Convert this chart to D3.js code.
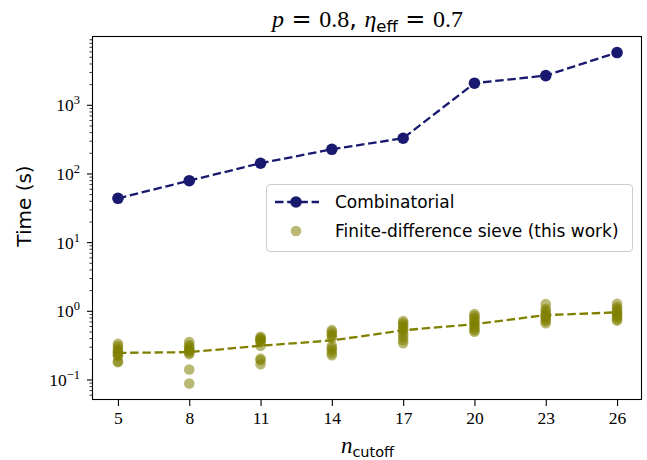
<!DOCTYPE html>
<html>
<head>
<meta charset="utf-8">
<script src="https://cdn.jsdelivr.net/npm/d3@7"></script>
<style>
  body { margin: 0; background: #fff; }
  svg { display: block; }
  .serif { font-family: "Liberation Serif", "Times New Roman", serif; }
  .sans { font-family: "DejaVu Sans", sans-serif; }
  .rel { font-family: "DejaVu Serif", serif; }
</style>
</head>
<body>
<svg id="chart" width="647" height="460"></svg>
<script>
// Photon-number cutoffs on the x axis
const cutoffs = [5, 8, 11, 14, 17, 20, 23, 26];

// Runtime of the combinatorial method (s)
const combinatorialTimes = [43.5, 78.5, 141, 225, 326, 2065, 2665, 5770];

// Individual runs of the finite-difference sieve (s), one list per cutoff
const sieveRuns = [
  [0.332, 0.306, 0.281, 0.267, 0.250, 0.242, 0.226, 0.219, 0.182, 0.179],
  [0.350, 0.316, 0.296, 0.277, 0.267, 0.259, 0.246, 0.234, 0.140, 0.0875],
  [0.420, 0.400, 0.387, 0.374, 0.362, 0.350, 0.311, 0.201, 0.191, 0.167],
  [0.523, 0.490, 0.457, 0.428, 0.400, 0.306, 0.286, 0.267, 0.242, 0.226],
  [0.708, 0.661, 0.619, 0.579, 0.541, 0.506, 0.457, 0.414, 0.374, 0.338],
  [0.895, 0.838, 0.783, 0.732, 0.684, 0.640, 0.598, 0.559, 0.523, 0.497],
  [1.250, 1.060, 0.990, 0.925, 0.865, 0.837, 0.809, 0.756, 0.708, 0.661],
  [1.270, 1.130, 1.060, 0.990, 0.940, 0.895, 0.851, 0.809, 0.756, 0.720]
];

// Typical (median) sieve runtime per cutoff (s)
const sieveTypical = [0.244, 0.25, 0.31, 0.37, 0.52, 0.64, 0.865, 0.95];

// Decade exponents labelled on the y axis
const yTickExponents = [-1, 0, 1, 2, 3];

const seriesNames = ["Combinatorial", "Finite-difference sieve (this work)"];

const navy = "#191970";
const olive = "#808000";
const lineWidth = 2.3;
const dash = "8.5,3.7";

const svg = d3.select("#chart");
const plot = { left: 93, right: 642, top: 36, bottom: 400 };

// x domain with 5% padding like the usual autoscale
const xExt = d3.extent(cutoffs);
const xPad = (xExt[1] - xExt[0]) * 0.05;
const x = d3.scaleLinear()
  .domain([xExt[0] - xPad, xExt[1] + xPad])
  .range([plot.left, plot.right]);

// y domain padded by 5% in log space
const allY = combinatorialTimes.concat(sieveRuns.flat(), sieveTypical);
const lo = Math.log10(d3.min(allY)), hi = Math.log10(d3.max(allY));
const yPad = (hi - lo) * 0.05;
const y = d3.scaleLog()
  .domain([Math.pow(10, lo - yPad), Math.pow(10, hi + yPad)])
  .range([plot.bottom, plot.top]);

// Minor ticks: 2..9 × 10^d inside the domain
const [yMin, yMax] = y.domain();
const minorTicks = [];
for (let d = -3; d <= 5; d++) {
  for (let k = 2; k <= 9; k++) {
    const v = k * Math.pow(10, d);
    if (v >= yMin && v <= yMax) minorTicks.push(v);
  }
}
const majorTicks = yTickExponents.map(e => Math.pow(10, e));

// ---- Axes ----
const xAxis = svg.append("g")
  .attr("transform", `translate(0,${plot.bottom})`)
  .call(d3.axisBottom(x).tickValues(cutoffs).tickSize(6).tickPadding(6).tickFormat(d3.format("d")));
xAxis.select(".domain").remove();
xAxis.selectAll(".tick line").attr("stroke", "#000").attr("stroke-width", 1.1);
xAxis.selectAll(".tick text")
  .attr("class", "serif")
  .attr("font-size", 17.5)
  .attr("fill", "#000");

const yMinor = svg.append("g")
  .attr("transform", `translate(${plot.left},0)`)
  .call(d3.axisLeft(y).tickValues(minorTicks).tickSize(3.5).tickFormat(""));
yMinor.select(".domain").remove();
yMinor.selectAll(".tick line").attr("stroke", "#000").attr("stroke-width", 0.8);

const yMajor = svg.append("g")
  .attr("transform", `translate(${plot.left},0)`)
  .call(d3.axisLeft(y).tickValues(majorTicks).tickSize(6).tickFormat(""));
yMajor.select(".domain").remove();
yMajor.selectAll(".tick line").attr("stroke", "#000").attr("stroke-width", 1.1);

// Power-of-ten labels with superscript exponents
const yLabels = svg.append("g").attr("class", "serif").attr("fill", "#000");
yTickExponents.forEach(e => {
  const t = yLabels.append("text")
    .attr("x", plot.left - 13)
    .attr("y", y(Math.pow(10, e)) + 6.5)
    .attr("text-anchor", "end")
    .attr("font-size", 17.5);
  t.append("tspan").text("10");
  t.append("tspan").attr("dy", -7).attr("font-size", 12.5)
    .text(e < 0 ? "\u2212" + Math.abs(e) : String(e));
});

// ---- Data ----
// Combinatorial
svg.append("path")
  .datum(cutoffs.map((c, i) => [c, combinatorialTimes[i]]))
  .attr("fill", "none")
  .attr("stroke", navy)
  .attr("stroke-width", lineWidth)
  .attr("stroke-dasharray", dash)
  .attr("d", d3.line().x(d => x(d[0])).y(d => y(d[1])));
svg.append("g").selectAll("circle")
  .data(cutoffs.map((c, i) => [c, combinatorialTimes[i]]))
  .join("circle")
  .attr("cx", d => x(d[0]))
  .attr("cy", d => y(d[1]))
  .attr("r", 5.8)
  .attr("fill", navy);

// Sieve: individual runs
const runPoints = [];
sieveRuns.forEach((runs, i) => runs.forEach(v => runPoints.push([cutoffs[i], v])));
svg.append("g").selectAll("circle")
  .data(runPoints)
  .join("circle")
  .attr("cx", d => x(d[0]))
  .attr("cy", d => y(d[1]))
  .attr("r", 5.3)
  .attr("fill", olive)
  .attr("fill-opacity", 0.55);

// Sieve: typical runtime line
svg.append("path")
  .datum(cutoffs.map((c, i) => [c, sieveTypical[i]]))
  .attr("fill", "none")
  .attr("stroke", olive)
  .attr("stroke-width", lineWidth)
  .attr("stroke-dasharray", dash)
  .attr("d", d3.line().x(d => x(d[0])).y(d => y(d[1])));

// Frame
svg.append("rect")
  .attr("x", plot.left - 0.5)
  .attr("y", plot.top + 0.5)
  .attr("width", plot.right - plot.left)
  .attr("height", plot.bottom - plot.top - 1)
  .attr("fill", "none")
  .attr("stroke", "#000")
  .attr("stroke-width", 1.1);

// ---- Legend ----
const lg = svg.append("g").attr("transform", "translate(266,184)");
lg.append("rect")
  .attr("x", 0.5).attr("y", 0.5)
  .attr("width", 366).attr("height", 67)
  .attr("rx", 3.5)
  .attr("fill", "#fff").attr("fill-opacity", 0.8)
  .attr("stroke", "#cccccc").attr("stroke-width", 1);
lg.append("line")
  .attr("x1", 9).attr("x2", 53).attr("y1", 18).attr("y2", 18)
  .attr("stroke", navy).attr("stroke-width", lineWidth).attr("stroke-dasharray", dash);
lg.append("circle").attr("cx", 30).attr("cy", 18).attr("r", 5.8).attr("fill", navy);
lg.append("circle").attr("cx", 30).attr("cy", 47).attr("r", 5.3)
  .attr("fill", olive).attr("fill-opacity", 0.55);
seriesNames.forEach((name, i) => {
  lg.append("text")
    .attr("class", "sans")
    .attr("x", 69)
    .attr("y", 18 + i * 29 + 6)
    .attr("font-size", 17)
    .attr("fill", "#000")
    .text(name);
});

// ---- Titles ----
// Math-style title: italic symbols, wide relation signs, thick spaces
const title = svg.append("text")
  .attr("x", (plot.left + plot.right) / 2)
  .attr("y", 27)
  .attr("text-anchor", "middle")
  .attr("font-size", 24)
  .attr("fill", "#000")
  .attr("class", "serif");
title.append("tspan").attr("font-style", "italic").text("p");
title.append("tspan").attr("class", "rel").attr("dx", 7.5).text("=");
title.append("tspan").attr("dx", 7.5).text("0.8");
title.append("tspan").attr("class", "sans").text(", ");
title.append("tspan").attr("font-style", "italic").text("\u03B7");
title.append("tspan").attr("class", "sans").attr("font-size", 16.5).attr("dy", 4.5).text("eff");
title.append("tspan").attr("class", "rel").attr("dy", -4.5).attr("dx", 7.5).text("=");
title.append("tspan").attr("dx", 7.5).text("0.7");

const xl = svg.append("text")
  .attr("x", (plot.left + plot.right) / 2)
  .attr("y", 453)
  .attr("text-anchor", "middle")
  .attr("fill", "#000")
  .attr("class", "serif");
xl.append("tspan").attr("font-style", "italic").attr("font-size", 23).text("n");
xl.append("tspan").attr("class", "sans").attr("font-size", 14.5).attr("dy", 4).text("cutoff");

svg.append("text")
  .attr("class", "sans")
  .attr("transform", "translate(31,206) rotate(-90)")
  .attr("text-anchor", "middle")
  .attr("font-size", 20)
  .attr("fill", "#000")
  .text("Time (s)");
</script>
</body>
</html>
